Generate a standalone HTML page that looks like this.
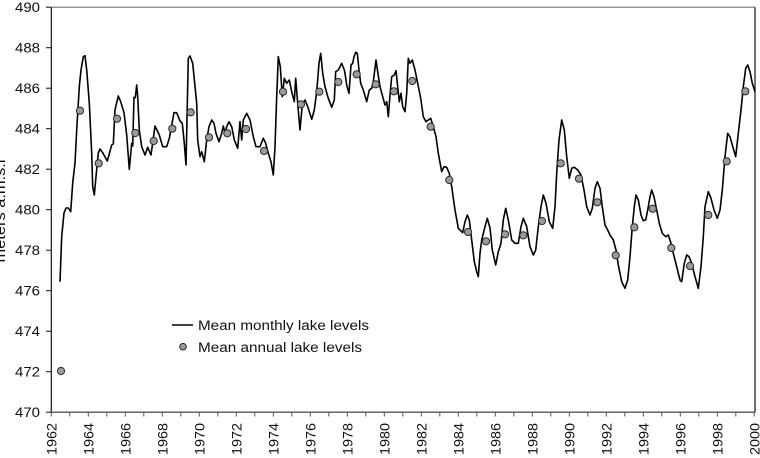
<!DOCTYPE html>
<html>
<head>
<meta charset="utf-8">
<style>
  html, body { margin: 0; padding: 0; background: #fff; }
  svg { display: block; }
  text { font-family: "Liberation Sans", Arial, sans-serif; fill: #111; }
</style>
</head>
<body>
<svg width="760" height="458" viewBox="0 0 760 458" xmlns="http://www.w3.org/2000/svg">
  <rect x="0" y="0" width="760" height="458" fill="#fff"/>

  <!-- frame -->
  <line x1="51.3" y1="7.2" x2="755" y2="7.2" stroke="#777" stroke-width="1.2"/>
  <line x1="755" y1="7.2" x2="755" y2="412.2" stroke="#111" stroke-width="1.2"/>
  <line x1="51.3" y1="7.2" x2="51.3" y2="412.2" stroke="#111" stroke-width="1.2"/>
  <line x1="51.3" y1="412.2" x2="755" y2="412.2" stroke="#555" stroke-width="1.3"/>

  <!-- y ticks & labels -->
  <g stroke="#111" stroke-width="1">
    <line x1="46" y1="412.2" x2="51.3" y2="412.2"/>
    <line x1="46" y1="371.7" x2="51.3" y2="371.7"/>
    <line x1="46" y1="331.2" x2="51.3" y2="331.2"/>
    <line x1="46" y1="290.7" x2="51.3" y2="290.7"/>
    <line x1="46" y1="250.2" x2="51.3" y2="250.2"/>
    <line x1="46" y1="209.7" x2="51.3" y2="209.7"/>
    <line x1="46" y1="169.2" x2="51.3" y2="169.2"/>
    <line x1="46" y1="128.7" x2="51.3" y2="128.7"/>
    <line x1="46" y1="88.2" x2="51.3" y2="88.2"/>
    <line x1="46" y1="47.7" x2="51.3" y2="47.7"/>
    <line x1="46" y1="7.2" x2="51.3" y2="7.2"/>
  </g>
  <g font-size="13.5" text-anchor="end">
    <text x="40" y="417" textLength="25" lengthAdjust="spacingAndGlyphs">470</text>
    <text x="40" y="376.5" textLength="25" lengthAdjust="spacingAndGlyphs">472</text>
    <text x="40" y="336" textLength="25" lengthAdjust="spacingAndGlyphs">474</text>
    <text x="40" y="295.5" textLength="25" lengthAdjust="spacingAndGlyphs">476</text>
    <text x="40" y="255" textLength="25" lengthAdjust="spacingAndGlyphs">478</text>
    <text x="40" y="214.5" textLength="25" lengthAdjust="spacingAndGlyphs">480</text>
    <text x="40" y="174" textLength="25" lengthAdjust="spacingAndGlyphs">482</text>
    <text x="40" y="133.5" textLength="25" lengthAdjust="spacingAndGlyphs">484</text>
    <text x="40" y="93" textLength="25" lengthAdjust="spacingAndGlyphs">486</text>
    <text x="40" y="52.5" textLength="25" lengthAdjust="spacingAndGlyphs">488</text>
    <text x="40" y="12" textLength="25" lengthAdjust="spacingAndGlyphs">490</text>
  </g>

  <!-- y axis title -->
  <text transform="translate(5,211) rotate(-90)" font-size="15" text-anchor="middle" textLength="103" lengthAdjust="spacingAndGlyphs">meters a.m.s.l</text>

  <!-- x ticks -->
  <g stroke="#555" stroke-width="1">
    <line x1="51.3" y1="412" x2="51.3" y2="416.5"/><line x1="69.8" y1="412" x2="69.8" y2="416.5"/>
    <line x1="88.3" y1="412" x2="88.3" y2="416.5"/><line x1="106.8" y1="412" x2="106.8" y2="416.5"/>
    <line x1="125.3" y1="412" x2="125.3" y2="416.5"/><line x1="143.8" y1="412" x2="143.8" y2="416.5"/>
    <line x1="162.3" y1="412" x2="162.3" y2="416.5"/><line x1="180.8" y1="412" x2="180.8" y2="416.5"/>
    <line x1="199.3" y1="412" x2="199.3" y2="416.5"/><line x1="217.8" y1="412" x2="217.8" y2="416.5"/>
    <line x1="236.3" y1="412" x2="236.3" y2="416.5"/><line x1="254.8" y1="412" x2="254.8" y2="416.5"/>
    <line x1="273.3" y1="412" x2="273.3" y2="416.5"/><line x1="291.8" y1="412" x2="291.8" y2="416.5"/>
    <line x1="310.3" y1="412" x2="310.3" y2="416.5"/><line x1="328.8" y1="412" x2="328.8" y2="416.5"/>
    <line x1="347.3" y1="412" x2="347.3" y2="416.5"/><line x1="365.8" y1="412" x2="365.8" y2="416.5"/>
    <line x1="384.3" y1="412" x2="384.3" y2="416.5"/><line x1="402.8" y1="412" x2="402.8" y2="416.5"/>
    <line x1="421.3" y1="412" x2="421.3" y2="416.5"/><line x1="439.8" y1="412" x2="439.8" y2="416.5"/>
    <line x1="458.3" y1="412" x2="458.3" y2="416.5"/><line x1="476.8" y1="412" x2="476.8" y2="416.5"/>
    <line x1="495.3" y1="412" x2="495.3" y2="416.5"/><line x1="513.8" y1="412" x2="513.8" y2="416.5"/>
    <line x1="532.3" y1="412" x2="532.3" y2="416.5"/><line x1="550.8" y1="412" x2="550.8" y2="416.5"/>
    <line x1="569.3" y1="412" x2="569.3" y2="416.5"/><line x1="587.8" y1="412" x2="587.8" y2="416.5"/>
    <line x1="606.3" y1="412" x2="606.3" y2="416.5"/><line x1="624.8" y1="412" x2="624.8" y2="416.5"/>
    <line x1="643.3" y1="412" x2="643.3" y2="416.5"/><line x1="661.8" y1="412" x2="661.8" y2="416.5"/>
    <line x1="680.3" y1="412" x2="680.3" y2="416.5"/><line x1="698.8" y1="412" x2="698.8" y2="416.5"/>
    <line x1="717.3" y1="412" x2="717.3" y2="416.5"/><line x1="735.8" y1="412" x2="735.8" y2="416.5"/>
    <line x1="754.3" y1="412" x2="754.3" y2="416.5"/>
  </g>

  <!-- x labels -->
  <g font-size="13.5" text-anchor="end">
    <text transform="translate(56.3,423) rotate(-90)" textLength="32" lengthAdjust="spacingAndGlyphs">1962</text>
    <text transform="translate(93.3,423) rotate(-90)" textLength="32" lengthAdjust="spacingAndGlyphs">1964</text>
    <text transform="translate(130.3,423) rotate(-90)" textLength="32" lengthAdjust="spacingAndGlyphs">1966</text>
    <text transform="translate(167.3,423) rotate(-90)" textLength="32" lengthAdjust="spacingAndGlyphs">1968</text>
    <text transform="translate(204.3,423) rotate(-90)" textLength="32" lengthAdjust="spacingAndGlyphs">1970</text>
    <text transform="translate(241.3,423) rotate(-90)" textLength="32" lengthAdjust="spacingAndGlyphs">1972</text>
    <text transform="translate(278.3,423) rotate(-90)" textLength="32" lengthAdjust="spacingAndGlyphs">1974</text>
    <text transform="translate(315.3,423) rotate(-90)" textLength="32" lengthAdjust="spacingAndGlyphs">1976</text>
    <text transform="translate(352.3,423) rotate(-90)" textLength="32" lengthAdjust="spacingAndGlyphs">1978</text>
    <text transform="translate(389.3,423) rotate(-90)" textLength="32" lengthAdjust="spacingAndGlyphs">1980</text>
    <text transform="translate(426.3,423) rotate(-90)" textLength="32" lengthAdjust="spacingAndGlyphs">1982</text>
    <text transform="translate(463.3,423) rotate(-90)" textLength="32" lengthAdjust="spacingAndGlyphs">1984</text>
    <text transform="translate(500.3,423) rotate(-90)" textLength="32" lengthAdjust="spacingAndGlyphs">1986</text>
    <text transform="translate(537.3,423) rotate(-90)" textLength="32" lengthAdjust="spacingAndGlyphs">1988</text>
    <text transform="translate(574.3,423) rotate(-90)" textLength="32" lengthAdjust="spacingAndGlyphs">1990</text>
    <text transform="translate(611.3,423) rotate(-90)" textLength="32" lengthAdjust="spacingAndGlyphs">1992</text>
    <text transform="translate(648.3,423) rotate(-90)" textLength="32" lengthAdjust="spacingAndGlyphs">1994</text>
    <text transform="translate(685.3,423) rotate(-90)" textLength="32" lengthAdjust="spacingAndGlyphs">1996</text>
    <text transform="translate(722.3,423) rotate(-90)" textLength="32" lengthAdjust="spacingAndGlyphs">1998</text>
    <text transform="translate(759.3,423) rotate(-90)" textLength="32" lengthAdjust="spacingAndGlyphs">2000</text>
  </g>

  <!-- monthly line -->
  <polyline fill="none" stroke="#000" stroke-width="1.6" stroke-linejoin="round" points="
60,281.7 61.7,236.7 64,213 66,208 68.3,208 70.7,211.7 72.7,183 75,163 76.7,130 79.3,86.7 81,70 83.3,56.7 85,55.7 86.7,70 89.3,103 91.7,153 92.7,186.7 94.3,195 96,176.7 98.3,153 100,149 102.7,152.7 107.3,161 111.7,145 113.3,144 115,110 118.3,96 120.7,101.7 124,112.7 126.7,135 129.3,169.3 131.7,143.3 132.7,146 134,97.3 135.3,97.7 136.7,85 137.7,96.7 139.3,130 141.7,146.7 145,155 147.7,147.3 151,155 155,126 159.3,135 162.7,146.7 166.7,146.7 169.3,138.3 174,112.7 176.7,112.7 180,121 182.3,123.3 184.3,143.3 186,165 188.3,58.3 190,56 192.7,63.3 196.7,103.3
197.7,140 200,156.7 201.7,151.7 204.3,161.7 206.7,140 209,126.7 211.7,120 214,123.3 216,133.3 219,141.7 221.7,133.3 223.3,126 225,133.3 226.7,126.7 229,121.7 231.7,126.7 234.3,140 237.7,148.3 240,121.7 241.7,140 243.3,120 246.7,113.3 250,120 253.3,136.7 256,146.7 260,146.7 263.3,138.3 265.7,143.3 268.3,153.3 271,161.7 273.3,175 275,146.7 276.7,96.7 278.3,56.7 280.3,66.7 282.3,96.7 284.3,78.3 286.7,83.3 289.3,80 291.7,91.7 294.3,101.7 295.7,78.3 297.7,103.3 300,130 302.3,105 305,100 308.3,108.3 311.7,119.3 314.3,110 316.7,91.7 319,63.3 320.7,53.3 322.7,73.3 325,86.7 328.3,98.3 331.7,107.3 334.3,100 335.7,71.7 338.3,70 341.7,63.3 344.3,70
345,73.3 346.7,85 349,93.3 351,65 352.7,63.3 354,56.7 355.7,52.3 357.3,53.3 359,70 360.7,83.3 363.3,90 366.7,101.7 369.3,90 371.7,88.3 373.3,81.7 376,60 377.7,71.7 380,86.7 382.7,96.7 385,105 386.7,101.7 388.3,116.7 390,95 391.7,76.7 394.3,75 396,70.7 397.3,83.3 399.3,101.7 401,93.3 402.7,106.7 405,111.7 406.7,93.3 408.3,58.3 410,63.3 412.3,60 415,70 417.7,83.3 420.7,98.3 423.3,116.7 426,121.7 428.3,120 430.7,118.3 433.3,126.7 436,136.7 438.3,153.3 441.7,171.7 444,166.7 446.7,167.3 449.3,173.3 451.7,186.7 455,210 458.3,228.3 462.7,232.7 465,221.7 467.3,215 469.3,220 471.7,240 474.3,261.7 476.7,271.7 478.3,276.7 480,253.3 481.7,240 485,226.7 487.3,218.3
490,228 492.3,250 495.7,265 498.3,251.7 501,243.3 503.3,220 505.7,208.3 508.3,220 511.7,240 515,243.3 518.3,243.3 521,226.7 523.3,218.3 526.7,226.7 530,246.7 533.3,255 535.7,250 538.3,226.7 541,206.7 543.3,195 546,203.3 549.3,221.7 552.7,228.3 555,206.7 556.7,173.3 559,140 561.7,120 564.3,130 566.7,156.7 569.3,178.3 571.7,168.3 574.3,167.3 577.7,170 581,175 584,190 586.7,206.7 590,215 592.3,208.3 595,188.3 597.3,181.7 600,188.3 602.3,206.7 605,225 607.7,230 610,235 613.3,240 616,250 618.3,265 621.7,281.7
625,288.3 627.7,280 630,256.7 632.3,226.7 634.3,206.7 636,195 638.3,200 641,215 643.3,220.7 645.7,220 647.7,210 650,196.7 651.7,190 654,196.7 656.7,210 659.3,223.3 662.3,233.3 665.7,236.7 668.3,235 671,243.3 673.3,253.3 676.7,266.7 680,280 681.7,281.7 684.3,263.3 686.7,255 689,256.7 691.7,263.3 695,276.7 698.3,288.3 701,266.7 703.3,236.7 705,206.7 708.3,191.7 711,198.3 714,210 717.3,218.3 720,210 722.3,190 725,156.7 727.7,133.3 730,136.7 732.3,145 735.7,156.7 738.3,133.3 741,110 743.3,86.7 745.7,68.3 747.7,65 750,71.7 752.3,83.3 755,91.7"/>

  <!-- annual dots -->
  <g fill="#9a9a9a" stroke="#2a2a2a" stroke-width="1">
    <circle cx="61" cy="371" r="3.6"/>
    <circle cx="80" cy="110.7" r="3.6"/>
    <circle cx="98.7" cy="163.3" r="3.6"/>
    <circle cx="117" cy="118.7" r="3.6"/>
    <circle cx="135.3" cy="133" r="3.6"/>
    <circle cx="153.7" cy="141" r="3.6"/>
    <circle cx="172.3" cy="128.7" r="3.6"/>
    <circle cx="190.7" cy="112.3" r="3.6"/>
    <circle cx="209" cy="137.3" r="3.6"/>
    <circle cx="227.3" cy="133.3" r="3.6"/>
    <circle cx="246" cy="129" r="3.6"/>
    <circle cx="264" cy="151" r="3.6"/>
    <circle cx="283" cy="91.7" r="3.6"/>
    <circle cx="301" cy="104.3" r="3.6"/>
    <circle cx="319.3" cy="91.7" r="3.6"/>
    <circle cx="338.3" cy="82" r="3.6"/>
    <circle cx="356.7" cy="74.3" r="3.6"/>
    <circle cx="375.7" cy="84.3" r="3.6"/>
    <circle cx="394" cy="91.3" r="3.6"/>
    <circle cx="412.3" cy="81" r="3.6"/>
    <circle cx="430.7" cy="126.7" r="3.6"/>
    <circle cx="449.3" cy="180" r="3.6"/>
    <circle cx="468" cy="232" r="3.6"/>
    <circle cx="486" cy="241.3" r="3.6"/>
    <circle cx="505" cy="234.3" r="3.6"/>
    <circle cx="523.3" cy="235.3" r="3.6"/>
    <circle cx="542" cy="221" r="3.6"/>
    <circle cx="560.7" cy="163.3" r="3.6"/>
    <circle cx="579" cy="178.7" r="3.6"/>
    <circle cx="597.3" cy="202.3" r="3.6"/>
    <circle cx="615.7" cy="255.3" r="3.6"/>
    <circle cx="634.3" cy="227.3" r="3.6"/>
    <circle cx="652.7" cy="208.7" r="3.6"/>
    <circle cx="671.3" cy="248" r="3.6"/>
    <circle cx="690" cy="266" r="3.6"/>
    <circle cx="708.3" cy="215" r="3.6"/>
    <circle cx="726.7" cy="161.3" r="3.6"/>
    <circle cx="745.3" cy="91.3" r="3.6"/>
  </g>

  <!-- legend -->
  <line x1="172" y1="325" x2="193" y2="325" stroke="#000" stroke-width="1.6"/>
  <text x="198" y="330" font-size="13.5" textLength="171" lengthAdjust="spacingAndGlyphs">Mean monthly lake levels</text>
  <circle cx="183" cy="346.7" r="3.3" fill="#9a9a9a" stroke="#2a2a2a" stroke-width="1"/>
  <text x="198" y="352" font-size="13.5" textLength="164" lengthAdjust="spacingAndGlyphs">Mean annual lake levels</text>
</svg>
</body>
</html>
